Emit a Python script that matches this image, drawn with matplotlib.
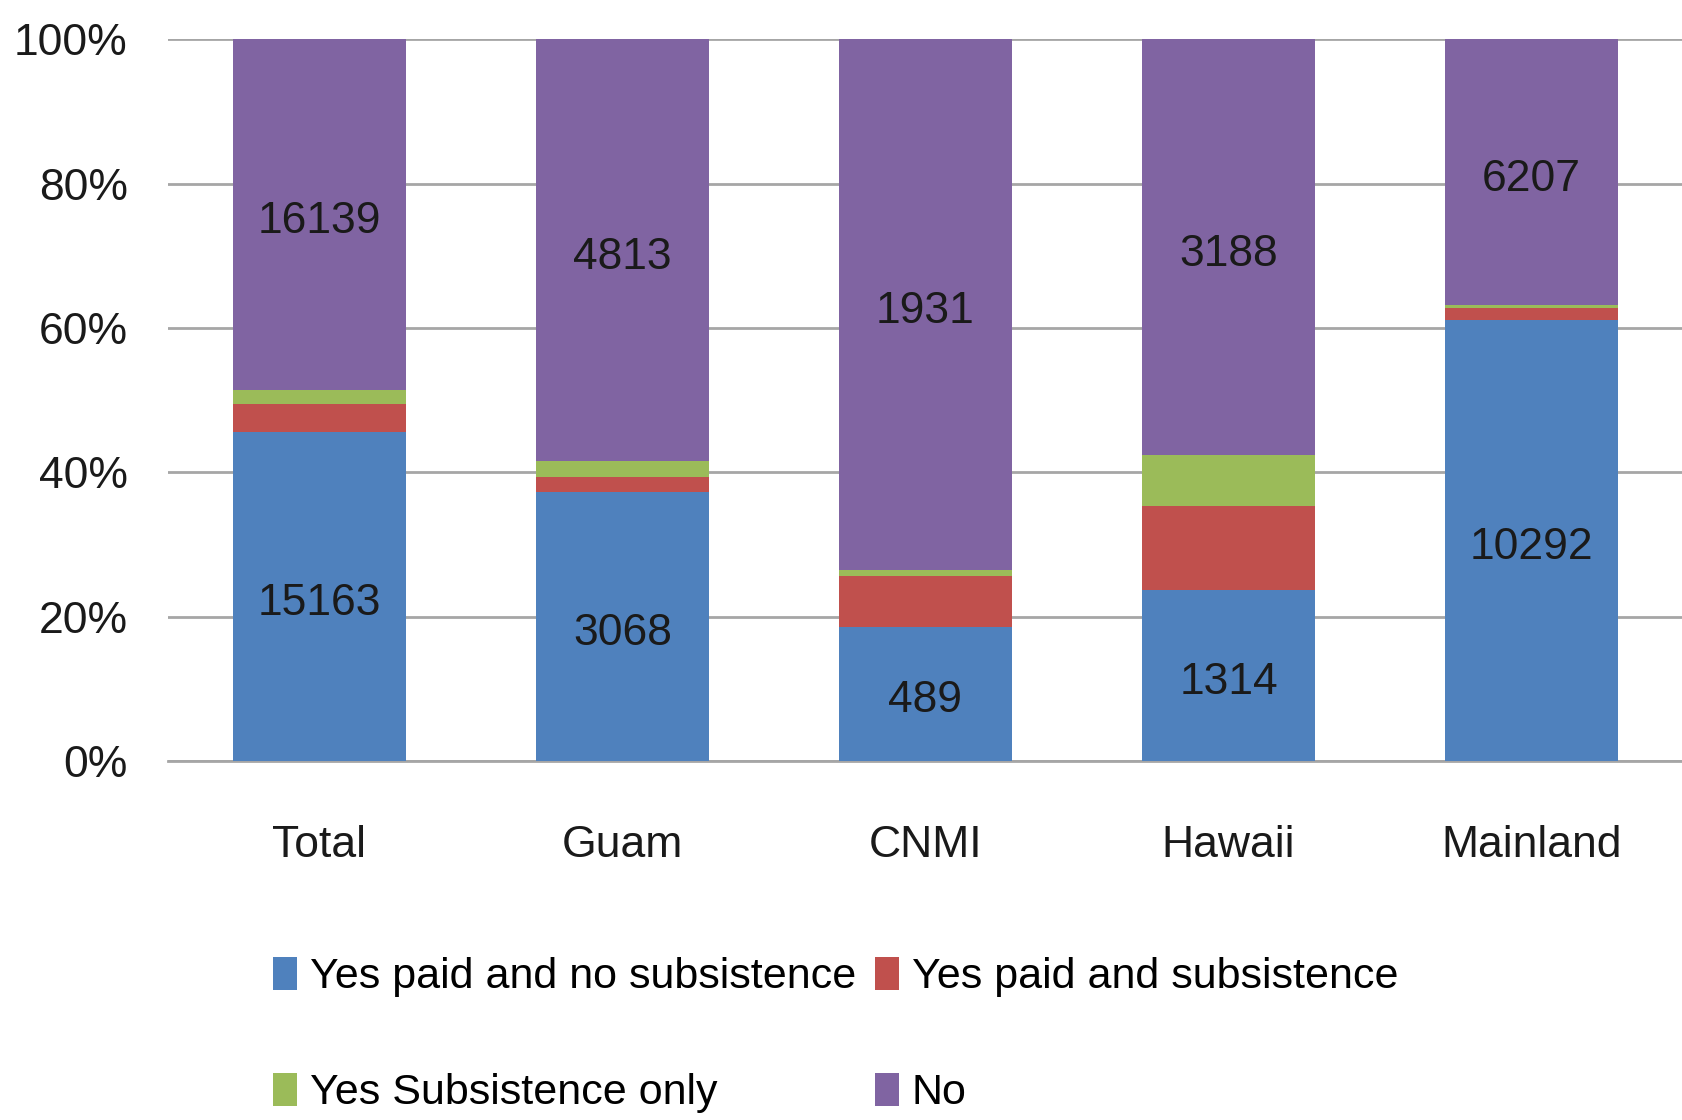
import matplotlib

matplotlib.use("Agg")
import matplotlib.pyplot as plt
import numpy as np

categories = ["Total", "Guam", "CNMI", "Hawaii", "Mainland"]
series_names = ["Yes paid and no subsistence", "Yes paid and subsistence",
                "Yes Subsistence only", "No"]
paid_no_subs = [15163, 3068, 489, 1314, 10292]
paid_and_subs = [1278, 165, 186, 641, 286]
subs_only = [661, 181, 21, 392, 67]
no_work = [16139, 4813, 1931, 3188, 6207]
y_ticks = [0, 20, 40, 60, 80, 100]
y_tick_labels = ["0%", "20%", "40%", "60%", "80%", "100%"]

colors = ["#4F81BD", "#C0504D", "#9BBB59", "#8064A2"]
labelled = [True, False, False, True]

plt.rcParams["font.family"] = ["Liberation Sans", "DejaVu Sans"]
FS = 32
LEG_FS = 31

data = np.array([paid_no_subs, paid_and_subs, subs_only, no_work], dtype=float)
pct = data / data.sum(axis=0) * 100

fig = plt.figure(figsize=(16.83, 11.2), dpi=100)
ax = fig.add_axes([0.0998, 0.3205, 0.9002, 0.6445])

x = np.arange(len(categories))
bottom = np.zeros(len(categories))
handles = []
for i in range(len(series_names)):
    bars = ax.bar(x, pct[i], 0.57, bottom=bottom, color=colors[i],
                  edgecolor="none", label=series_names[i], zorder=3)
    handles.append(bars)
    if labelled[i]:
        for j in range(len(categories)):
            ax.annotate(str(int(data[i][j])), (x[j], bottom[j] + pct[i][j] / 2),
                        xytext=(0, -5), textcoords="offset points",
                        ha="center", va="center", fontsize=FS, color="#1a1a1a", zorder=4)
    bottom += pct[i]

ax.set_xlim(-0.5, len(categories) - 0.5)
ax.set_ylim(0, 100)
ax.set_yticks(y_ticks)
ax.set_yticklabels(y_tick_labels)
ax.set_xticks(x)
ax.set_xticklabels(categories)
ax.tick_params(axis="y", length=0, pad=29, labelsize=FS, labelcolor="#1a1a1a")
ax.tick_params(axis="x", length=0, pad=46, labelsize=FS, labelcolor="#1a1a1a")
ax.grid(axis="y", color="#a6a6a6", linewidth=2, zorder=0)
for s in ["top", "right", "left"]:
    ax.spines[s].set_visible(False)
ax.spines["bottom"].set_color("#a6a6a6")
ax.spines["bottom"].set_linewidth(2)

# legend fills column by column, so order to read row-wise like the original
order = [0, 2, 1, 3]
fig.legend([handles[k] for k in order], [series_names[k] for k in order],
           ncol=2, loc="upper left",
           bbox_to_anchor=(0.152, 0.161), frameon=False, fontsize=LEG_FS,
           handlelength=0.55, handleheight=0.8, handletextpad=0.3,
           columnspacing=0.45, labelspacing=1.75, borderaxespad=0)

fig.savefig("out.png", dpi=100)
